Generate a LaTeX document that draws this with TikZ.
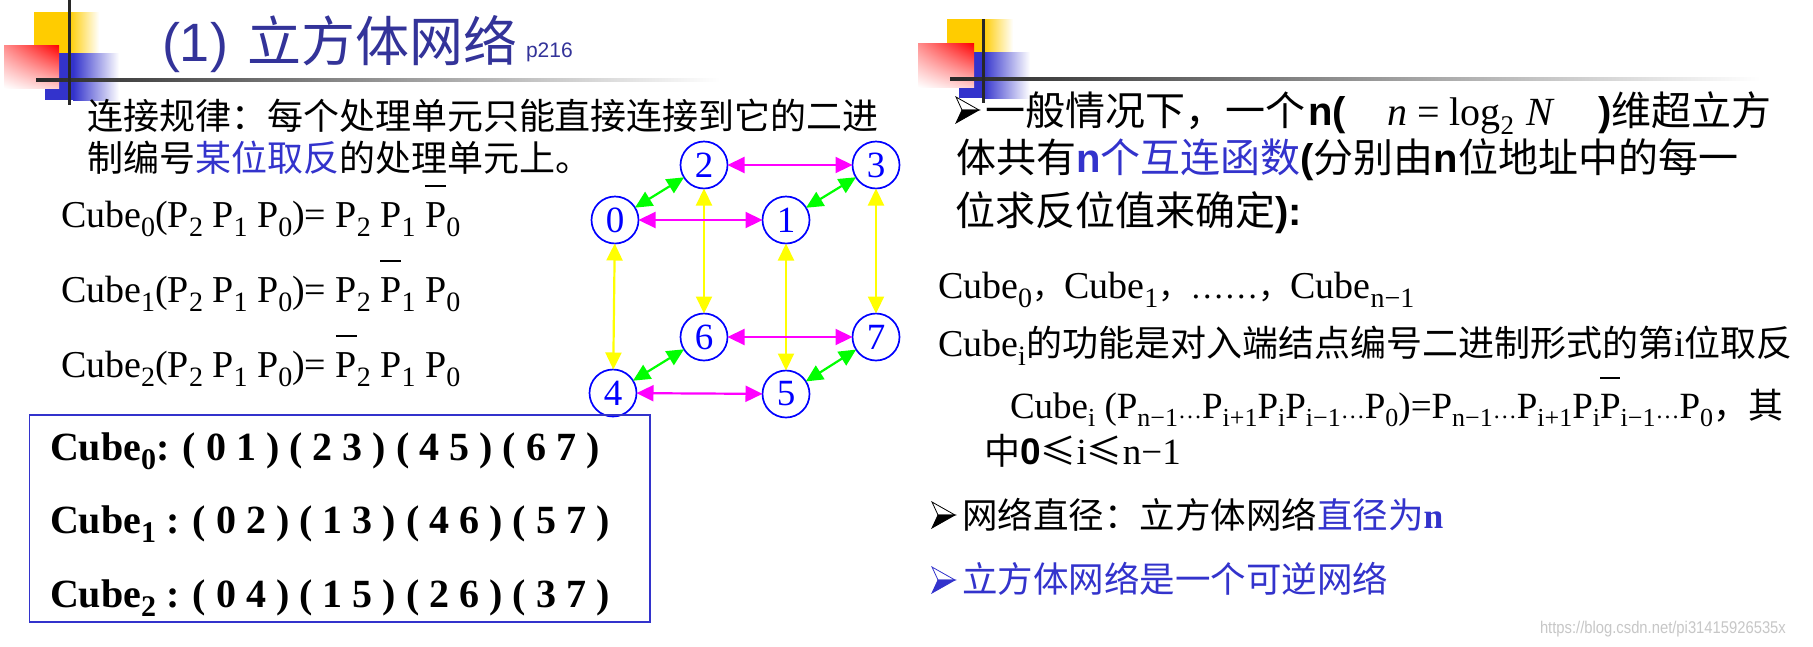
\documentclass[tikz,border=0pt]{standalone}
\usepackage{fontspec}
\setmainfont{Liberation Serif}
\newfontfamily\cjk{Noto Sans CJK SC}
\newfontfamily\arl{Liberation Sans}
\newfontfamily\wmfont[FakeStretch=0.87]{Liberation Sans}
\usetikzlibrary{arrows.meta,shadings}
\newcommand\fsz[1]{\fontsize{#1}{#1}\selectfont}
\newcommand\sbs[2]{\raisebox{-0.24em}{\fsz{#1}#2}}
\newcommand\obar[1]{\leavevmode\rlap{\raisebox{1.05em}{\rule{0.55em}{0.06em}}}#1}
\definecolor{titleblue}{RGB}{51,51,153}
\definecolor{textblue}{RGB}{51,51,204}
\definecolor{decoyellow}{RGB}{255,204,0}
\definecolor{decoblue}{RGB}{51,51,204}
\definecolor{nodeblue}{RGB}{0,0,255}
\definecolor{arrmag}{RGB}{255,0,255}
\definecolor{arrgreen}{RGB}{0,255,0}
\definecolor{arryellow}{RGB}{255,255,0}
\definecolor{linegray}{RGB}{40,40,40}
\newcommand\arrowbullet[2]{%
  \begin{scope}[shift={#1}]
    \filldraw[draw=#2, fill=white, line width=0.8pt] (0,0) -- (23,13) -- (6,13) -- cycle;
    \filldraw[draw=#2, fill=#2, line width=0.8pt] (0,26) -- (23,13) -- (6,13) -- cycle;
  \end{scope}}
\tikzset{
  txt/.style={anchor=base west},
  cnode/.style={circle, draw=nodeblue, line width=1.7pt, minimum size=47pt, inner sep=0pt,
    text=nodeblue, font=\fsz{37}},
  link/.style={line width=2.2pt, {Triangle[length=17pt,width=16pt]}-{Triangle[length=17pt,width=16pt]}},
  hlink/.style={link, draw=arrmag},
  dlink/.style={link, draw=arrgreen},
  vlink/.style={link, draw=arryellow},
  redsq/.style={upper left=red!45!white, upper right=red, lower left=white, lower right=red!20!white},
}
\begin{document}
\begin{tikzpicture}[x=1pt, y=-1pt, every node/.style={inner sep=0pt, outer sep=0pt}]
\useasboundingbox (0,0) rectangle (1813,646);
\fill[white] (0,0) rectangle (1813,646);

% ---------- left decoration ----------
\fill[decoyellow] (34,12) rectangle (69,55);
\shade[left color=decoyellow, right color=white] (69,12) rectangle (99,55);
\fill[decoblue] (45,53) rectangle (73,100);
\shade[left color=decoblue, right color=white] (73,53) rectangle (119,100);
\shade[redsq] (4,45) rectangle (59,88);
\shade[left color=linegray, right color=white] (36,78.5) rectangle (720,81.5);
\fill[linegray] (67.5,0) rectangle (70.5,105);

% ---------- right decoration ----------
\fill[decoyellow] (947,19) rectangle (983,52);
\shade[left color=decoyellow, right color=white] (983,19) rectangle (1013,52);
\fill[decoblue] (959,52) rectangle (983,98);
\shade[left color=decoblue, right color=white] (983,52) rectangle (1030,98);
\shade[redsq] (918,43) rectangle (974,87);
\shade[left color=linegray, right color=white] (950,77.5) rectangle (1760,80.5);
\fill[linegray] (981.5,19) rectangle (984.5,103);

% ---------- title ----------
\node[txt, text=titleblue, font=\arl\fsz{54}] (t1) at (162,61) {(1)};
\node[txt, text=titleblue, font=\cjk\fsz{54}] (t2) at (247,61) {立方体网络};
\node[txt, text=titleblue, font=\arl\fsz{21}] (t3) at (526,57) {p216};

% ---------- left text ----------
\node[txt, font=\cjk\fsz{36}] (l1) at (87,129) {连接规律：每个处理单元只能直接连接到它的二进};
\node[txt, font=\cjk\fsz{36}] (l2) at (87,171) {制编号\textcolor{textblue}{某位取反}的处理单元上。};

\node[txt, font=\fsz{38}] (c0) at (61,227) {Cube\sbs{28}{0}(P\sbs{28}{2} P\sbs{28}{1} P\sbs{28}{0})= P\sbs{28}{2} P\sbs{28}{1} \obar{P}\sbs{28}{0}};
\node[txt, font=\fsz{38}] (c1) at (61,302) {Cube\sbs{28}{1}(P\sbs{28}{2} P\sbs{28}{1} P\sbs{28}{0})= P\sbs{28}{2} \obar{P}\sbs{28}{1} P\sbs{28}{0}};
\node[txt, font=\fsz{38}] (c2) at (61,377) {Cube\sbs{28}{2}(P\sbs{28}{2} P\sbs{28}{1} P\sbs{28}{0})= \obar{P}\sbs{28}{2} P\sbs{28}{1} P\sbs{28}{0}};

% ---------- cube graph ----------
\node[cnode] (n0) at (615,220) {0};
\node[cnode] (n1) at (786,220) {1};
\node[cnode] (n2) at (704,165) {2};
\node[cnode] (n3) at (876,165) {3};
\node[cnode] (n4) at (613,393) {4};
\node[cnode] (n5) at (786,394) {5};
\node[cnode] (n6) at (704,337) {6};
\node[cnode] (n7) at (876,337) {7};
\draw[vlink] (n0) -- (n4);
\draw[vlink] (n1) -- (n5);
\draw[vlink] (n2) -- (n6);
\draw[vlink] (n3) -- (n7);
\draw[hlink] (n0) -- (n1);
\draw[hlink] (n2) -- (n3);
\draw[hlink] (n4) -- (n5);
\draw[hlink] (n6) -- (n7);
\draw[dlink] (n0) -- (n2);
\draw[dlink] (n1) -- (n3);
\draw[dlink] (n4) -- (n6);
\draw[dlink] (n5) -- (n7);

% ---------- box ----------
\draw[textblue, line width=1.5pt] (29.5,415) rectangle (650,622);
\node[txt, font=\bfseries\fsz{40}] (b0) at (50,460) {Cube\sbs{30}{0}: ( 0 1 ) ( 2 3 ) ( 4 5 ) ( 6 7 )};
\node[txt, font=\bfseries\fsz{40}] (b1) at (50,533) {Cube\sbs{30}{1} : ( 0 2 ) ( 1 3 ) ( 4 6 ) ( 5 7 )};
\node[txt, font=\bfseries\fsz{40}] (b2) at (50,607) {Cube\sbs{30}{2} : ( 0 4 ) ( 1 5 ) ( 2 6 ) ( 3 7 )};

% ---------- right text ----------
\arrowbullet{(956,97)}{black}
\node[txt, font=\cjk\fsz{40}] (r1a) at (985,125) {一般情况下，一个};
\node[txt, font=\arl\bfseries\fsz{40}] (r1b) at (1308,125) {n(};
\node[txt, font=\fsz{40}] (r1c) at (1387,125) {\textit{n}\hspace{10pt}=\hspace{10pt}log\sbs{27}{2}\hspace{12pt}\textit{N}};
\node[txt, font=\fsz{40}] (r1d) at (1598,125) {{\arl\bfseries )}{\cjk 维超立方}};
\node[txt, font=\cjk\fsz{40}] (r2) at (956,172) {体共有{\arl\bfseries\color{textblue}n}\textcolor{textblue}{个互连函数}{\arl\bfseries (}分别由{\arl\bfseries n}位地址中的每一};
\node[txt, font=\cjk\fsz{40}] (r3) at (955,225) {位求反位值来确定{\arl\bfseries ):}};

\node[txt, font=\fsz{38}] (r4) at (938,298) {Cube\sbs{28}{0}{\cjk\fsz{32}，}Cube\sbs{28}{1}{\cjk\fsz{32}，}{\fsz{34}……}{\cjk\fsz{32}，}Cube\sbs{28}{n−1}};
\node[txt, font=\fsz{38}] (r5) at (938,356) {Cube\sbs{28}{i}{\cjk\fsz{36}的功能是对入端结点编号二进制形式的第}i{\cjk\fsz{36}位取反}};
\node[txt, font=\fsz{37}] (r6) at (1010,418) {Cube\sbs{26}{i} (P\sbs{26}{n−1}{\fsz{24}…}P\sbs{26}{i+1}P\sbs{26}{i}P\sbs{26}{i−1}{\fsz{24}…}P\sbs{26}{0})=P\sbs{26}{n−1}{\fsz{24}…}P\sbs{26}{i+1}P\sbs{26}{i}\obar{P}\sbs{26}{i−1}{\fsz{24}…}P\sbs{26}{0}{\cjk\fsz{35}，其}};
\node[txt, font=\fsz{37}] (r7) at (976,464) {{\cjk\fsz{36} 中}{\arl\bfseries 0}{\cjk\fsz{36}≤}i{\cjk\fsz{36}≤}n−1};

\arrowbullet{(932,502)}{black}
\node[txt, font=\cjk\fsz{35.5}] (r8) at (962,528.5) {网络直径：立方体网络\textcolor{textblue}{直径为{\rmfamily\bfseries n}}};
\arrowbullet{(932,567)}{textblue}
\node[txt, font=\cjk\fsz{35.5}, text=textblue] (r9) at (962,592) {立方体网络是一个可逆网络};

\node[txt, font=\wmfont\fsz{17}, text=black!22] (wm) at (1540,633) {https://blog.csdn.net/pi31415926535x};
\end{tikzpicture}
\end{document}
